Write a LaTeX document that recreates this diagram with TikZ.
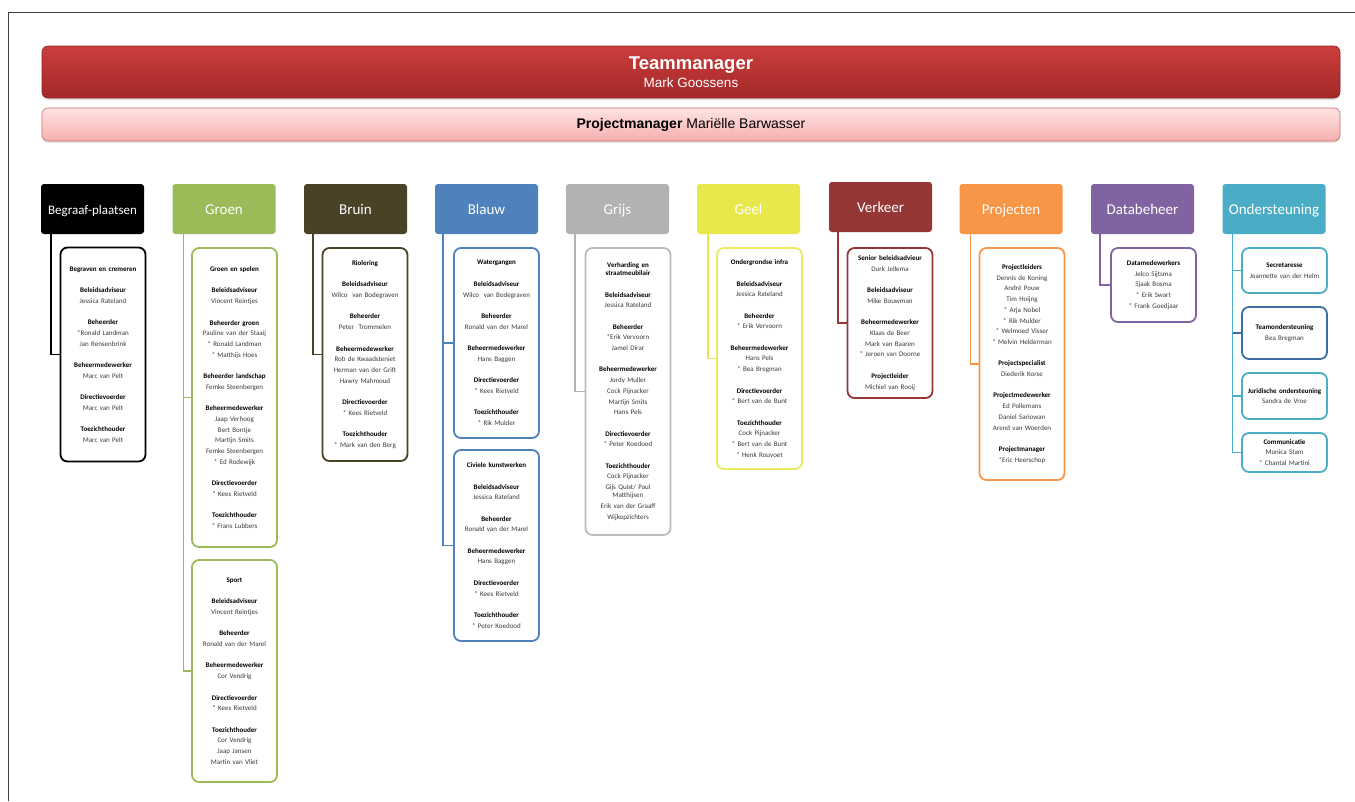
\documentclass[tikz,border=0pt]{standalone}
\usepackage{fontspec}
\setmainfont{Carlito}
\newfontfamily\arialf{Liberation Sans}
\usetikzlibrary{shadows}
\definecolor{cZwart}{HTML}{000000}
\definecolor{cGroen}{HTML}{9BBB59}
\definecolor{cBruin}{HTML}{4A4227}
\definecolor{cBlauw}{HTML}{4F81BD}
\definecolor{cGrijs}{HTML}{B2B2B2}
\definecolor{cGrijsBox}{HTML}{BDBDBD}
\definecolor{cGeel}{HTML}{E8E84C}
\definecolor{cGeelBox}{HTML}{EAEA60}
\definecolor{cVerkeer}{HTML}{953735}
\definecolor{cProj}{HTML}{F79646}
\definecolor{cData}{HTML}{8064A2}
\definecolor{cOnder}{HTML}{4BACC6}
\definecolor{cTeamOnd}{HTML}{3D6FA0}
\definecolor{nameg}{HTML}{3A3A3A}
\definecolor{redtop}{HTML}{CC3E3E}
\definecolor{redbot}{HTML}{A32828}
\definecolor{redline}{HTML}{8E2222}
\definecolor{pinktop}{HTML}{FFE3E3}
\definecolor{pinkbot}{HTML}{F6AFAF}
\definecolor{pinkline}{HTML}{C87070}
\definecolor{framec}{HTML}{404040}
\newcommand\hd[1]{{\color{black}\bfseries #1}}
\begin{document}
\begin{tikzpicture}[x=1pt,y=-1pt,
  hdr/.style={rounded corners=3pt, minimum width=103pt, minimum height=50pt, inner sep=0pt, text=white, font=\fontsize{15}{18}\selectfont, fill=#1, text height=12pt, text depth=1.5pt},
  orgbox/.style={draw=#1, line width=1.8pt, rounded corners=7pt, fill=white, inner sep=0pt, align=center, text width=84pt, minimum width=85pt, font=\fontsize{7}{10.7}\selectfont, text=nameg},
  conn/.style={line width=1.5pt, draw=#1},
  framel/.style={draw=framec, line width=1pt}
]
\useasboundingbox (0,0) rectangle (1355,801);
\fill[white] (0,0) rectangle (1355,801);
% frame
\coordinate (fA) at (8,801);
\coordinate (fB) at (8,12);
\coordinate (fC) at (1355,12);
\draw[framel] (fA) -- (fB) -- (fC);

% top bars
\node[rounded corners=6pt, minimum width=1298pt, minimum height=52pt, inner sep=0pt,
  top color=redtop, bottom color=redbot, draw=redline, line width=0.6pt,
  drop shadow={opacity=0.25, shadow xshift=0pt, shadow yshift=-2pt},
  text=white, align=center] (tm) at (691,72)
  {{\arialf\bfseries\fontsize{18.5}{19}\selectfont Teammanager}\\[3pt]{\arialf\fontsize{13.5}{15}\selectfont Mark Goossens}};
\node[rounded corners=6pt, minimum width=1298pt, minimum height=33pt, inner sep=0pt,
  top color=pinktop, bottom color=pinkbot, draw=pinkline, line width=0.6pt,
  drop shadow={opacity=0.2, shadow xshift=0pt, shadow yshift=-2pt},
  text=black] (pm) at (691,124.5)
  {\arialf\fontsize{14}{16}\selectfont\textbf{Projectmanager} Mariëlle Barwasser};

% headers
\node[hdr=cZwart, font=\fontsize{13}{16}\selectfont] (h1) at (92.5,209) {Begraaf-plaatsen};
\node[hdr=cGroen] (h2) at (224,209) {Groen};
\node[hdr=cBruin] (h3) at (355.5,209) {Bruin};
\node[hdr=cBlauw] (h4) at (486.5,209) {Blauw};
\node[hdr=cGrijs] (h5) at (617.5,209) {Grijs};
\node[hdr=cGeel] (h6) at (748.5,209) {Geel};
\node[hdr=cVerkeer] (h7) at (880.5,207) {Verkeer};
\node[hdr=cProj] (h8) at (1011,209) {Projecten};
\node[hdr=cData] (h9) at (1142.5,209) {Databeheer};
\node[hdr=cOnder] (h10) at (1274,209) {Ondersteuning};

% boxes
\node[orgbox=black, minimum height=214pt] (b1) at (103,354.5) {\hd{Begraven en cremeren}\\[10.7pt]\hd{Beleidsadviseur}\\Jessica Rateland\\[10.7pt]\hd{Beheerder}\\{*}Ronald Landman\\Jan Rensenbrink\\[10.7pt]\hd{Beheermedewerker}\\Marc van Pelt\\[10.7pt]\hd{Directievoerder}\\Marc van Pelt\\[10.7pt]\hd{Toezichthouder}\\Marc van Pelt};

\node[orgbox=cGroen, minimum height=299pt] (b2a) at (234.5,397.5) {\hd{Groen en spelen}\\[10.7pt]\hd{Beleidsadviseur}\\Vincent Reintjes\\[10.7pt]\hd{Beheerder groen}\\Pauline van der Staaij\\{*} Ronald Landman\\{*} Matthijs Hoes\\[10.7pt]\hd{Beheerder landschap}\\Femke Steenbergen\\[10.7pt]\hd{Beheermedewerker}\\Jaap Verhoog\\Bert Bontje\\Martijn Smits\\Femke Steenbergen\\{*} Ed Rodewijk\\[10.7pt]\hd{Directievoerder}\\{*} Kees Rietveld\\[10.7pt]\hd{Toezichthouder}\\{*} Frans Lubbers};

\node[orgbox=cGroen, minimum height=222pt] (b2b) at (234.5,671) {\hd{Sport}\\[10.7pt]\hd{Beleidsadviseur}\\Vincent Reintjes\\[10.7pt]\hd{Beheerder}\\Ronald van der Marel\\[10.7pt]\hd{Beheermedewerker}\\Cor Vendrig\\[10.7pt]\hd{Directievoerder}\\{*} Kees Rietveld\\[10.7pt]\hd{Toezichthouder}\\Cor Vendrig\\Jaap Jansen\\Martin van Vliet};

\node[orgbox=cBruin, minimum height=213pt] (b3) at (365,354.5) {\hd{Riolering}\\[10.7pt]\hd{Beleidsadviseur}\\Wilco~ van Bodegraven\\[10.7pt]\hd{Beheerder}\\Peter~ Trommelen\\[10.7pt]\hd{Beheermedewerker}\\Rob de Kwaadsteniet\\Herman van der Grift\\Hawry Mahmoud\\[10.7pt]\hd{Directievoerder}\\{*} Kees Rietveld\\[10.7pt]\hd{Toezichthouder}\\{*} Mark van den Berg};

\node[orgbox=cBlauw, minimum height=190pt] (b4a) at (496.5,343) {\hd{Watergangen}\\[10.7pt]\hd{Beleidsadviseur}\\Wilco~ van Bodegraven\\[10.7pt]\hd{Beheerder}\\Ronald van der Marel\\[10.7pt]\hd{Beheermedewerker}\\Hans Baggen\\[10.7pt]\hd{Directievoerder}\\{*} Kees Rietveld\\[10.7pt]\hd{Toezichthouder}\\{*} Rik Mulder};

\node[orgbox=cBlauw, minimum height=191pt] (b4b) at (496.5,545.5) {\hd{Civiele kunstwerken}\\[10.7pt]\hd{Beleidsadviseur}\\Jessica Rateland\\[10.7pt]\hd{Beheerder}\\Ronald van der Marel\\[10.7pt]\hd{Beheermedewerker}\\Hans Baggen\\[10.7pt]\hd{Directievoerder}\\{*} Kees Rietveld\\[10.7pt]\hd{Toezichthouder}\\{*} Peter Koedood};

\node[orgbox=cGrijsBox, minimum height=287pt] (b5) at (628,391.5) {\hd{Verharding en}\\[-2.7pt]\hd{straatmeubilair}\\[10.7pt]\hd{Beleidsadviseur}\\Jessica Rateland\\[10.7pt]\hd{Beheerder}\\{*}Erik Vervoorn\\Jamel Dirar\\[10.7pt]\hd{Beheermedewerker}\\Jordy Muller\\Cock Pijnacker\\Martijn Smits\\Hans Pels\\[10.7pt]\hd{Directievoerder}\\{*} Peter Koedood\\[10.7pt]\hd{Toezichthouder}\\Cock Pijnacker\\Gijs Quist/ Paul\\[-2.7pt]Matthijsen\\Erik van der Graaff\\Wijkopzichters};

\node[orgbox=cGeelBox, minimum height=221pt] (b6) at (759.5,358.5) {\hd{Ondergrondse infra}\\[10.7pt]\hd{Beleidsadviseur}\\Jessica Rateland\\[10.7pt]\hd{Beheerder}\\{*} Erik Vervoorn\\[10.7pt]\hd{Beheermedewerker}\\Hans Pels\\{*} Bea Bregman\\[10.7pt]\hd{Directievoerder}\\{*} Bert van de Bunt\\[10.7pt]\hd{Toezichthouder}\\Cock Pijnacker\\{*} Bert van de Bunt\\{*} Henk Rouvoet};

\node[orgbox=cVerkeer, minimum height=150pt] (b7) at (890,323) {\hd{Senior beleidsadvieur}\\Durk Jellema\\[10.7pt]\hd{Beleidsadviseur}\\Mike Bouwman\\[10.7pt]\hd{Beheermedewerker}\\Klaas de Beer\\Mark van Baaren\\{*} Jeroen van Doorne\\[10.7pt]\hd{Projectleider}\\Michiel van Rooij};

\node[orgbox=cProj, minimum height=232pt] (b8) at (1022,364) {\hd{Projectleiders}\\Dennis de Koning\\André Pouw\\Tim Hoijng\\{*} Arja Nobel\\{*} Rik Mulder\\{*} Welmoed Visser\\{*} Melvin Helderman\\[10.7pt]\hd{Projectspecialist}\\Diederik Korse\\[10.7pt]\hd{Projectmedewerker}\\Ed Pollemans\\Daniel Sariowan\\Arend van Woerden\\[10.7pt]\hd{Projectmanager}\\{*}Eric Heerschop};

\node[orgbox=cData, minimum height=74pt] (b9) at (1153.5,285) {\hd{Datamedewerkers}\\Jelco Sijtsma\\Sjaak Bosma\\{*} Erik Swart\\{*} Frank Goedjaar};

\node[orgbox=cOnder, minimum height=45pt] (b10a) at (1284.5,270.5) {\hd{Secretaresse}\\Jeannette van der Helm};
\node[orgbox=cTeamOnd, minimum height=52pt] (b10b) at (1284.5,333) {\hd{Teamondersteuning}\\Bea Bregman};
\node[orgbox=cOnder, minimum height=46pt] (b10c) at (1284.5,396) {\hd{Juridische ondersteuning}\\Sandra de Vroe};
\node[orgbox=cOnder, minimum height=39pt] (b10d) at (1284.5,452.5) {\hd{Communicatie}\\Monica Stam\\{*} Chantal Martini};

% connectors
\draw[conn=black] (h1.south west) ++(10,0) |- (b1.west);
\draw[conn=cGroen] (h2.south west) ++(11,0) |- (b2a.west);
\draw[conn=cGroen] (h2.south west) ++(11,0) |- (b2b.west);
\draw[conn=cBruin] (h3.south west) ++(9,0) |- (b3.west);
\draw[conn=cBlauw] (h4.south west) ++(8,0) |- (b4a.west);
\draw[conn=cBlauw] (h4.south west) ++(8,0) |- (b4b.west);
\draw[conn=cGrijs] (h5.south west) ++(9,0) |- (b5.west);
\draw[conn=cGeel] (h6.south west) ++(11,0) |- (b6.west);
\draw[conn=cVerkeer] (h7.south west) ++(9,0) |- (b7.west);
\draw[conn=cProj] (h8.south west) ++(11,0) |- (b8.west);
\draw[conn=cData] (h9.south west) ++(9,0) |- (b9.west);
\draw[conn=cOnder] (h10.south west) ++(10,0) |- (b10a.west);
\draw[conn=cTeamOnd] (h10.south west) ++(10,0) |- (b10b.west);
\draw[conn=cOnder] (h10.south west) ++(10,0) |- (b10c.west);
\draw[conn=cOnder] (h10.south west) ++(10,0) |- (b10d.west);
\end{tikzpicture}
\end{document}
